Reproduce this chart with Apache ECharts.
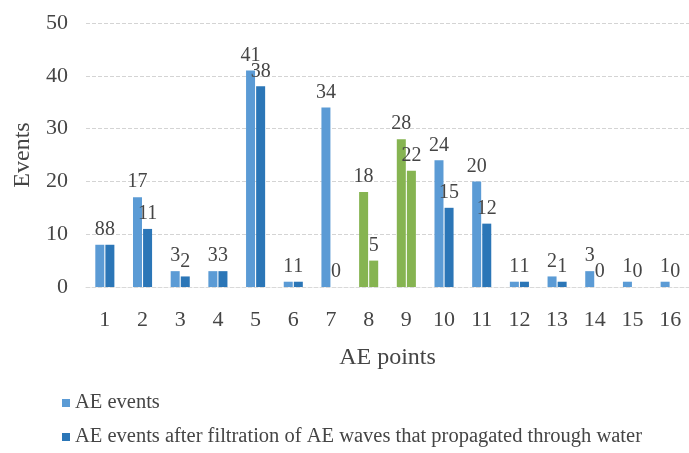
<!DOCTYPE html>
<html>
<head>
<meta charset="utf-8">
<script src="https://cdn.jsdelivr.net/npm/echarts@6/dist/echarts.min.js"></script>
<style>
  html, body { margin: 0; padding: 0; background: #ffffff; }
  #chart { width: 689px; height: 453px; }
</style>
</head>
<body>
<div id="chart"></div>
<script>
// AE monitoring points along the x axis
const aePoints = ['1','2','3','4','5','6','7','8','9','10','11','12','13','14','15','16'];
// All recorded AE events per point
const aeEvents = [8, 17, 3, 3, 41, 1, 34, 18, 28, 24, 20, 1, 2, 3, 1, 1];
// Events left after removing waves that travelled through water
const aeFiltered = [8, 11, 2, 3, 38, 1, 0, 5, 22, 15, 12, 1, 1, 0, 0, 0];
// Points drawn in green
const greenPoints = ['8', '9'];
const yTicks = { min: 0, max: 50, interval: 10 };

const SERIES_ALL = 'AE events';
const SERIES_FILTERED = 'AE events after filtration of AE waves that propagated through water';

const FONT = '"Liberation Serif", "DejaVu Serif", serif';
const TEXT = '#454545';
const BLUE_LIGHT = '#5b9bd5';
const BLUE_DARK = '#2b76b7';
const GREEN = '#86b451';

function withGreen(values) {
  return values.map((v, i) => greenPoints.includes(aePoints[i])
    ? { value: v, itemStyle: { color: GREEN } }
    : v);
}

const labelStyle = {
  show: true,
  position: 'top',
  distance: 5,
  fontFamily: FONT,
  fontSize: 20,
  color: TEXT
};

// one legend block per row, stacked vertically under the plot
function legendRow(name, top) {
  return {
    left: 62,
    top: top,
    padding: 0,
    itemWidth: 8,
    itemHeight: 8,
    icon: 'rect',
    selectedMode: false,
    textStyle: { fontFamily: FONT, fontSize: 20.5, color: TEXT, lineHeight: 24, padding: [0, 0, 0, 0] },
    data: [name]
  };
}

const chart = echarts.init(document.getElementById('chart'), null, { renderer: 'canvas' });
chart.setOption({
  animation: false,
  backgroundColor: '#ffffff',
  textStyle: { fontFamily: FONT },
  grid: { left: 86, right: -6, top: 23, bottom: 166 },
  legend: [legendRow(SERIES_ALL, 391), legendRow(SERIES_FILTERED, 425)],
  xAxis: {
    type: 'category',
    data: aePoints,
    name: 'AE points',
    nameLocation: 'middle',
    nameGap: 59,
    nameTextStyle: { fontFamily: FONT, fontSize: 24, color: TEXT },
    axisLine: { show: true, lineStyle: { color: '#d9d9d9', type: 'dashed' } },
    axisTick: { show: false },
    axisLabel: { fontFamily: FONT, fontSize: 22, color: TEXT, margin: 22 }
  },
  yAxis: {
    type: 'value',
    min: yTicks.min,
    max: yTicks.max,
    interval: yTicks.interval,
    name: 'Events',
    nameLocation: 'middle',
    nameGap: 49,
    nameTextStyle: { fontFamily: FONT, fontSize: 24, color: TEXT },
    axisLine: { show: false },
    axisTick: { show: false },
    axisLabel: { fontFamily: FONT, fontSize: 22, color: TEXT, margin: 18 },
    splitLine: { lineStyle: { color: '#d4d4d4', type: 'dashed', width: 1 } }
  },
  series: [
    {
      name: SERIES_ALL,
      type: 'bar',
      data: withGreen(aeEvents),
      barWidth: 9,
      barGap: '12%',
      itemStyle: { color: BLUE_LIGHT },
      label: labelStyle
    },
    {
      name: SERIES_FILTERED,
      type: 'bar',
      data: withGreen(aeFiltered),
      barWidth: 9,
      itemStyle: { color: BLUE_DARK },
      label: labelStyle
    }
  ]
});
</script>
</body>
</html>
